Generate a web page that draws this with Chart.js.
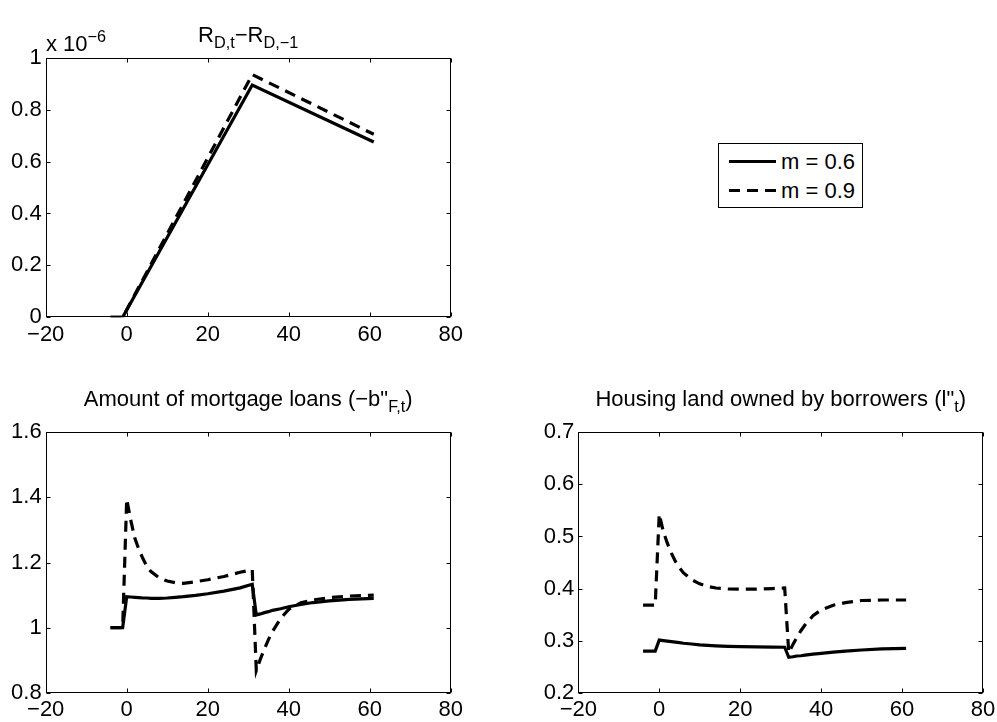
<!DOCTYPE html>
<html>
<head>
<meta charset="utf-8">
<script src="https://cdn.jsdelivr.net/npm/chart.js"></script>
<style>
html,body{margin:0;padding:0;background:#fff;}
body{width:997px;height:722px;position:relative;overflow:hidden;font-family:"Liberation Sans",Arial,Helvetica,sans-serif;font-size:22px;color:#000;}
.cv{position:absolute;}
.t{position:absolute;text-align:center;line-height:25px;white-space:nowrap;}
.t sub{font-size:74%;vertical-align:baseline;position:relative;top:0.42em;line-height:0;}
.t sup{font-size:74%;vertical-align:baseline;position:relative;top:-0.55em;line-height:0;}
#legend{position:absolute;left:718px;top:143px;width:143px;height:63px;border:1px solid #000;background:#fff;}
#legend .row{position:absolute;left:0;height:25px;line-height:25px;white-space:nowrap;}
#legend svg{position:absolute;left:10px;top:0;}
#legend span{position:absolute;left:62px;top:0;}
</style>
</head>
<body>
<canvas id="c1" class="cv" width="480" height="360" style="left:0;top:0;"></canvas>
<canvas id="c2" class="cv" width="480" height="362" style="left:0;top:360px;"></canvas>
<canvas id="c3" class="cv" width="497" height="362" style="left:500px;top:360px;"></canvas>

<div class="t" style="left:45.7px;width:405px;top:21.5px;">R<sub>D,t</sub>−R<sub>D,−1</sub></div>
<div class="t" style="left:46px;top:30.5px;text-align:left;">x 10<sup>−6</sup></div>
<div class="t" style="left:45.7px;width:405px;top:385.5px;">Amount of mortgage loans (−b"<sub>F,t</sub>)</div>
<div class="t" style="left:578.3px;width:405px;top:385.5px;">Housing land owned by borrowers (l"<sub>t</sub>)</div>

<div id="legend">
  <div class="row" style="top:5px;">
    <svg width="48" height="25"><line x1="0" y1="12.5" x2="47" y2="12.5" stroke="#000" stroke-width="3.2"/></svg>
    <span>m = 0.6</span>
  </div>
  <div class="row" style="top:34px;">
    <svg width="48" height="25"><line x1="0" y1="12.5" x2="47" y2="12.5" stroke="#000" stroke-width="3.2" stroke-dasharray="11 7"/></svg>
    <span>m = 0.9</span>
  </div>
</div>

<script>
// ---------- data ----------
const seriesLabels = ['m = 0.6', 'm = 0.9'];

// Top panel: R_{D,t} - R_{D,-1}, in units of 1e-6
const periodsR = [-4, -1, 31, 61];
const rateM06 = [0, 0, 0.895, 0.675];
const rateM09 = [0, 0, 0.935, 0.705];

// Bottom panels share these periods
const periods = [-4, -3, -2, -1, 0, 1, 2, 3, 4, 5, 6, 8, 10, 12, 14, 17, 20, 24, 28, 31,
                 32, 33, 34, 35, 36, 38, 40, 43, 46, 50, 55, 61];

// Amount of mortgage loans (-b"_{F,t})
const mortgageM06 = [1.000, 1.000, 1.000, 1.000, 1.095, 1.094, 1.093, 1.092, 1.091, 1.091, 1.090,
                     1.090, 1.091, 1.093, 1.095, 1.099, 1.104, 1.112, 1.122, 1.133,
                     1.039, 1.042, 1.046, 1.049, 1.053, 1.058, 1.064, 1.071, 1.077, 1.082, 1.087, 1.090];
const mortgageM09 = [1.000, 1.000, 1.000, 1.000, 1.395, 1.330, 1.275, 1.240, 1.212, 1.188, 1.172,
                     1.153, 1.143, 1.138, 1.136, 1.141, 1.147, 1.157, 1.170, 1.178,
                     0.868, 0.903, 0.934, 0.963, 0.988, 1.028, 1.056, 1.076, 1.085, 1.092, 1.097, 1.100];

// Housing land owned by borrowers (l"_t)
const landM06 = [0.280, 0.280, 0.280, 0.280, 0.301, 0.300, 0.299, 0.298, 0.297, 0.296, 0.295,
                 0.2935, 0.292, 0.291, 0.290, 0.289, 0.2885, 0.288, 0.2875, 0.2873,
                 0.268, 0.269, 0.2705, 0.271, 0.272, 0.274, 0.2755, 0.278, 0.280, 0.282, 0.284, 0.285];
const landM09 = [0.368, 0.368, 0.368, 0.368, 0.543, 0.510, 0.487, 0.468, 0.452, 0.440, 0.430,
                 0.417, 0.409, 0.404, 0.401, 0.3995, 0.399, 0.399, 0.400, 0.401,
                 0.277, 0.292, 0.306, 0.319, 0.330, 0.348, 0.359, 0.368, 0.373, 0.377, 0.378, 0.378];

// ticks
const xTickValues = [-20, 0, 20, 40, 60, 80];
const xTickLabels = ['−20', '0', '20', '40', '60', '80'];
const yTickValuesR = [0, 0.2, 0.4, 0.6, 0.8, 1];
const yTickLabelsR = ['0', '0.2', '0.4', '0.6', '0.8', '1'];
const yTickValuesB = [0.8, 1, 1.2, 1.4, 1.6];
const yTickLabelsB = ['0.8', '1', '1.2', '1.4', '1.6'];
const yTickValuesL = [0.2, 0.3, 0.4, 0.5, 0.6, 0.7];
const yTickLabelsL = ['0.2', '0.3', '0.4', '0.5', '0.6', '0.7'];

// ---------- rendering ----------
Chart.defaults.font.family = '"Liberation Sans", Arial, Helvetica, sans-serif';
Chart.defaults.font.size = 22;
Chart.defaults.color = '#000';

const matlabAxes = {
  id: 'matlabAxes',
  afterDraw(chart) {
    const ctx = chart.ctx, a = chart.chartArea, xs = chart.scales.x, ys = chart.scales.y;
    const L = 4;
    ctx.save();
    ctx.strokeStyle = '#000';
    ctx.lineWidth = 1;
    ctx.beginPath();
    const l = Math.round(a.left) + 0.5, r = Math.round(a.right) - 0.5;
    const t = Math.round(a.top) + 0.5, b = Math.round(a.bottom) - 0.5;
    xs.ticks.forEach(tk => {
      const p = Math.round(xs.getPixelForValue(tk.value)) + 0.5;
      ctx.moveTo(p, b); ctx.lineTo(p, b - L);
      ctx.moveTo(p, t); ctx.lineTo(p, t + L);
    });
    ys.ticks.forEach(tk => {
      const p = Math.round(ys.getPixelForValue(tk.value)) + 0.5;
      ctx.moveTo(l, p); ctx.lineTo(l + L, p);
      ctx.moveTo(r, p); ctx.lineTo(r - L, p);
    });
    ctx.stroke();
    ctx.strokeRect(l, t, r - l, b - t);
    ctx.restore();
  }
};

function toPoints(xs, ys) { return xs.map((x, i) => ({ x: x, y: ys[i] })); }

function lineDs(label, xs, ys, dashed) {
  return {
    label: label,
    data: toPoints(xs, ys),
    borderColor: '#000',
    borderWidth: 3.2,
    borderDash: dashed ? [11, 7] : [],
    borderCapStyle: 'butt',
    borderJoinStyle: 'miter',
    pointRadius: 0,
    tension: 0,
    fill: false
  };
}

function makeChart(id, datasets, yMin, yMax, yVals, yLabs, area, size) {
  new Chart(document.getElementById(id), {
    type: 'line',
    data: { datasets: datasets },
    options: {
      responsive: false,
      animation: false,
      events: [],
      layout: { padding: { left: 0, top: area.top, right: size.w - area.right, bottom: 0 } },
      plugins: { legend: { display: false }, tooltip: { enabled: false }, title: { display: false } },
      scales: {
        x: {
          type: 'linear', min: -20, max: 80,
          grid: { display: false, drawTicks: false },
          border: { display: false },
          ticks: { padding: 4, autoSkip: false, maxRotation: 0, color: '#000',
                   callback: (v, i) => xTickLabels[i] },
          afterBuildTicks: s => { s.ticks = xTickValues.map(v => ({ value: v })); },
          afterFit: s => { s.height = size.h - area.bottom; s.paddingLeft = 0; s.paddingRight = 0; }
        },
        y: {
          type: 'linear', min: yMin, max: yMax,
          grid: { display: false, drawTicks: false },
          border: { display: false },
          ticks: { padding: 4, autoSkip: false, color: '#000',
                   callback: (v, i) => yLabs[i] },
          afterBuildTicks: s => { s.ticks = yVals.map(v => ({ value: v })); },
          afterFit: s => { s.width = area.left; s.paddingTop = 0; s.paddingBottom = 0; }
        }
      }
    },
    plugins: [matlabAxes]
  });
}

makeChart('c1',
  [lineDs(seriesLabels[0], periodsR, rateM06, false), lineDs(seriesLabels[1], periodsR, rateM09, true)],
  0, 1, yTickValuesR, yTickLabelsR,
  { left: 45.7, top: 57.7, right: 450.7, bottom: 317.3 }, { w: 480, h: 360 });

makeChart('c2',
  [lineDs(seriesLabels[0], periods, mortgageM06, false), lineDs(seriesLabels[1], periods, mortgageM09, true)],
  0.8, 1.6, yTickValuesB, yTickLabelsB,
  { left: 45.7, top: 72.3, right: 450.7, bottom: 332.7 }, { w: 480, h: 362 });

makeChart('c3',
  [lineDs(seriesLabels[0], periods, landM06, false), lineDs(seriesLabels[1], periods, landM09, true)],
  0.2, 0.7, yTickValuesL, yTickLabelsL,
  { left: 78.3, top: 72.3, right: 483, bottom: 332.7 }, { w: 497, h: 362 });
</script>
</body>
</html>
